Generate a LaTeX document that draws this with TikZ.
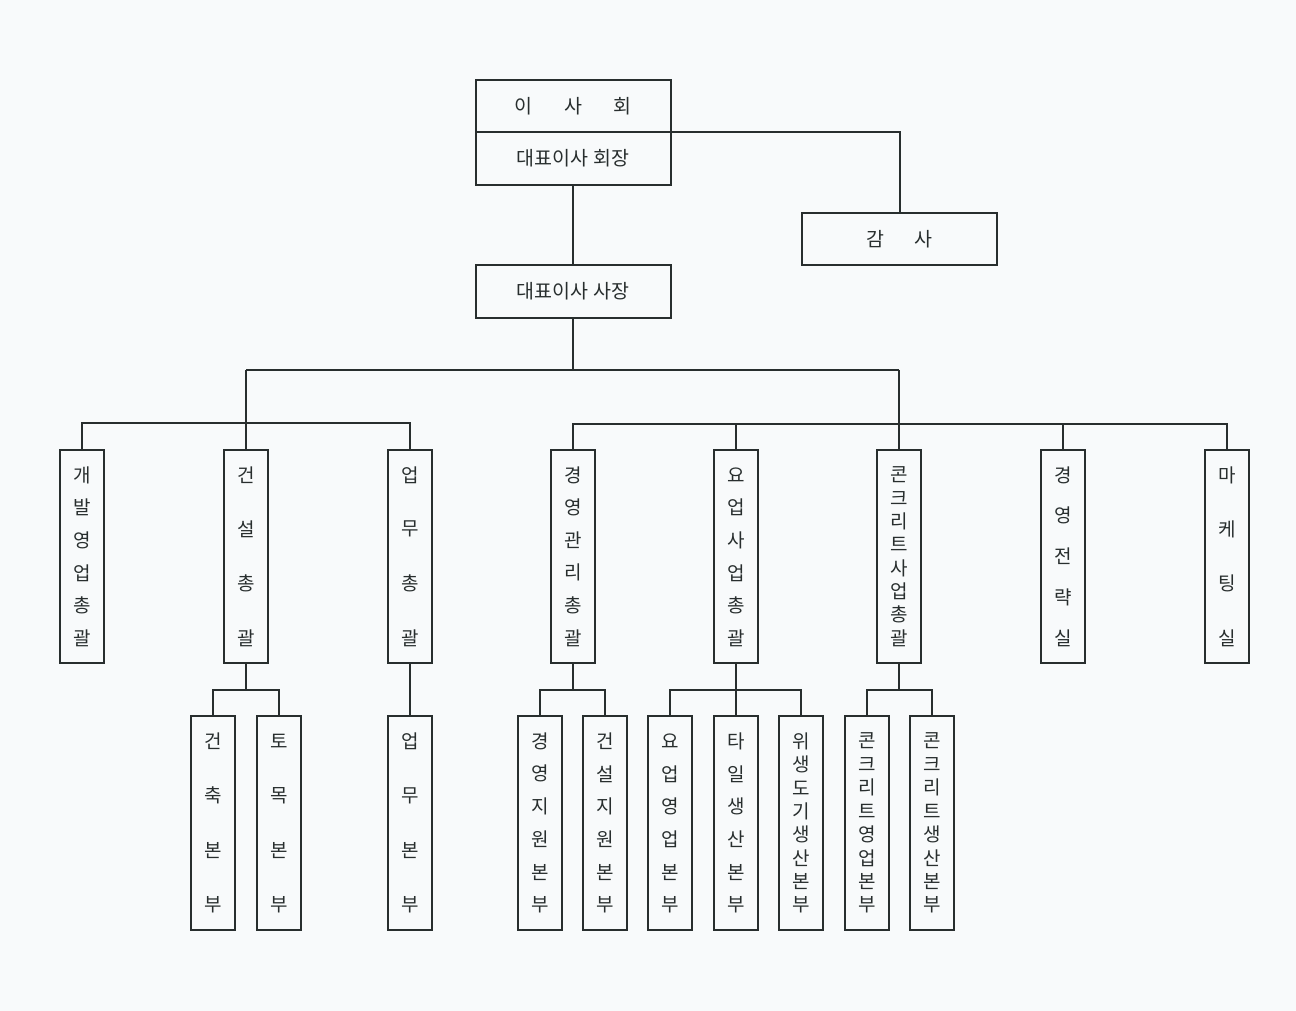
\documentclass[tikz,border=0pt]{standalone}
\usepackage{fontspec}
\setmainfont{Noto Sans CJK KR}
\definecolor{ink}{RGB}{40,46,46}
\definecolor{paper}{RGB}{248,250,251}
\newcommand{\vlet}[6]{%
  \foreach \ch [count=\i from 0] in {#6} {
    \node[lett] (#1-l\i) at ({#2}, {#3+25+\i*(#4-#3-50)/(#5-1)}) {\ch};
  }%
}
\begin{document}
\begin{tikzpicture}[x=1pt,y=-1pt,
  box/.style={draw=ink, line width=2pt, rectangle, inner sep=0pt, outer sep=0pt,
    minimum width=195pt, minimum height=52pt, text=ink, font=\fontsize{19.5}{23}\selectfont},
  colbox/.style={draw=ink, line width=2pt, rectangle, inner sep=0pt, outer sep=0pt,
    minimum width=44pt},
  lett/.style={inner sep=0pt, text=ink, font=\fontsize{19}{22}\selectfont},
  conn/.style={draw=ink, line width=2pt}]
\path[fill=paper] (0,0) rectangle (1296,1011);
% top
\node[box] (board) at (573,106) {이\hspace{32pt}사\hspace{32pt}회};
\node[box, minimum height=53pt] (chair) at (573,158.5) {대표이사\hspace{6pt}회장};
\node[box] (audit) at (899.5,239) {감\hspace{31pt}사};
\node[box, minimum height=53pt] (pres) at (573,291.5) {대표이사\hspace{6pt}사장};
% level 2
\foreach \nm/\x in {n1/82,n2/246,n3/410,n4/573,n5/736,n6/899,n7/1063,n8/1227}
  \node[colbox, minimum height=213pt] (\nm) at (\x,556.5) {};
\vlet{n1}{82}{450}{663}{6}{개,발,영,업,총,괄}
\vlet{n2}{246}{450}{663}{4}{건,설,총,괄}
\vlet{n3}{410}{450}{663}{4}{업,무,총,괄}
\vlet{n4}{573}{450}{663}{6}{경,영,관,리,총,괄}
\vlet{n5}{736}{450}{663}{6}{요,업,사,업,총,괄}
\vlet{n6}{899}{450}{663}{8}{콘,크,리,트,사,업,총,괄}
\vlet{n7}{1063}{450}{663}{5}{경,영,전,략,실}
\vlet{n8}{1227}{450}{663}{4}{마,케,팅,실}
% level 3
\foreach \nm/\x in {c1/213,c2/279,c3/410,c4/540,c5/605,c6/670,c7/736,c8/801,c9/867,c10/932}
  \node[colbox, minimum height=214pt] (\nm) at (\x,823) {};
\vlet{c1}{213}{716}{930}{4}{건,축,본,부}
\vlet{c2}{279}{716}{930}{4}{토,목,본,부}
\vlet{c3}{410}{716}{930}{4}{업,무,본,부}
\vlet{c4}{540}{716}{930}{6}{경,영,지,원,본,부}
\vlet{c5}{605}{716}{930}{6}{건,설,지,원,본,부}
\vlet{c6}{670}{716}{930}{6}{요,업,영,업,본,부}
\vlet{c7}{736}{716}{930}{6}{타,일,생,산,본,부}
\vlet{c8}{801}{716}{930}{8}{위,생,도,기,생,산,본,부}
\vlet{c9}{867}{716}{930}{8}{콘,크,리,트,영,업,본,부}
\vlet{c10}{932}{716}{930}{8}{콘,크,리,트,생,산,본,부}
% connectors
\coordinate (m) at (573,370);
\coordinate (bl) at (246,423);
\coordinate (br) at (899,424);
\coordinate (b3) at (573,690);
\draw[conn] (chair.north east) -| (audit.north);
\draw[conn] (chair.south) -- (pres.north);
\draw[conn] (pres.south) -- (m);
\draw[conn] (n2.north |- m) -- (n6.north |- m);
\draw[conn] (n2.north |- m) -- (n2.north);
\draw[conn] (n6.north |- m) -- (n6.north);
\draw[conn] (n1.north) |- (n3.north |- bl) -- (n3.north);
\draw[conn] (n4.north) |- (n8.north |- br) -- (n8.north);
\draw[conn] (n5.north) -- (n5.north |- br);
\draw[conn] (n7.north) -- (n7.north |- br);
\draw[conn] (n2.south) -- (n2.south |- b3);
\draw[conn] (c1.north) |- (c2.north |- b3) -- (c2.north);
\draw[conn] (n3.south) -- (c3.north);
\draw[conn] (n4.south) -- (n4.south |- b3);
\draw[conn] (c4.north) |- (c5.north |- b3) -- (c5.north);
\draw[conn] (n5.south) -- (n5.south |- b3);
\draw[conn] (c6.north) |- (c8.north |- b3) -- (c8.north);
\draw[conn] (c7.north) -- (c7.north |- b3);
\draw[conn] (n6.south) -- (n6.south |- b3);
\draw[conn] (c9.north) |- (c10.north |- b3) -- (c10.north);
\end{tikzpicture}
\end{document}
